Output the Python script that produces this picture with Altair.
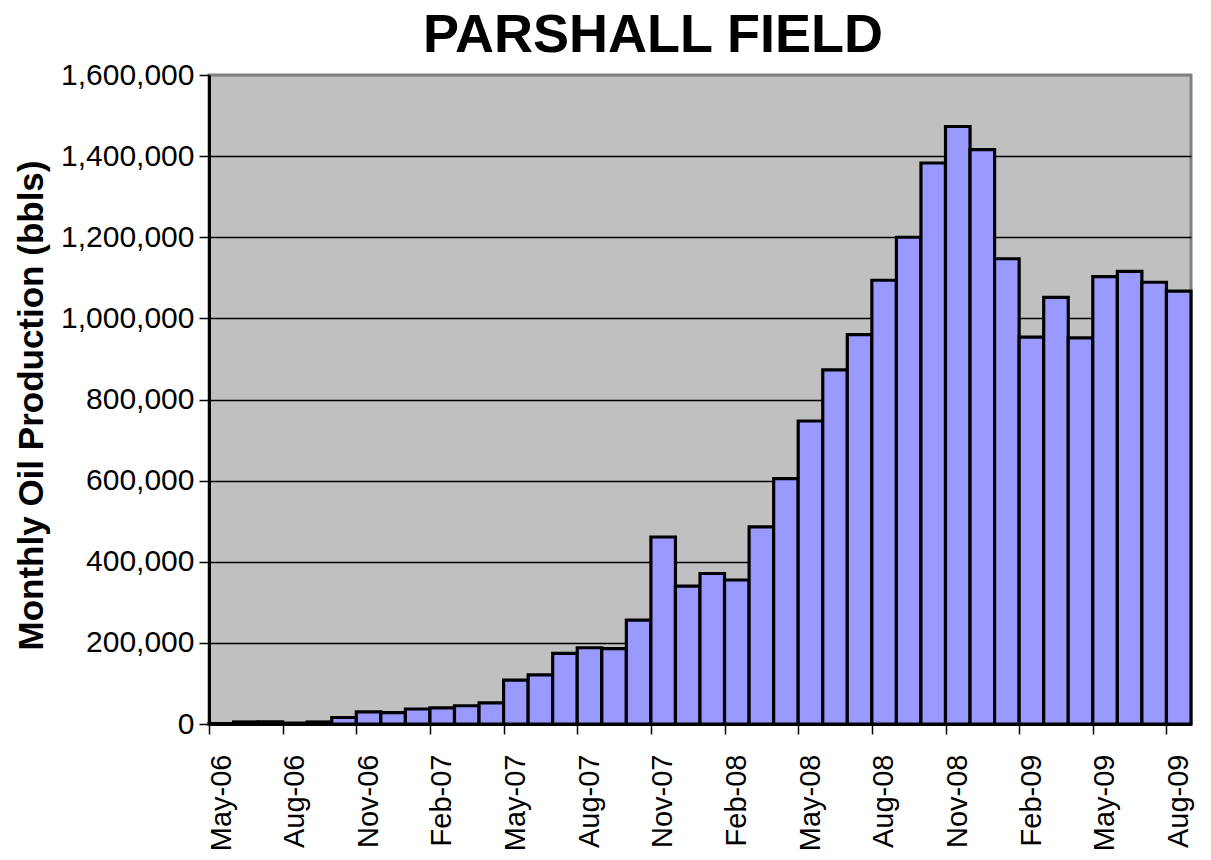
import altair as alt
import pandas as pd

months = [
    "May-06", "Jun-06", "Jul-06", "Aug-06", "Sep-06", "Oct-06", "Nov-06", "Dec-06",
    "Jan-07", "Feb-07", "Mar-07", "Apr-07", "May-07", "Jun-07", "Jul-07", "Aug-07",
    "Sep-07", "Oct-07", "Nov-07", "Dec-07", "Jan-08", "Feb-08", "Mar-08", "Apr-08",
    "May-08", "Jun-08", "Jul-08", "Aug-08", "Sep-08", "Oct-08", "Nov-08", "Dec-08",
    "Jan-09", "Feb-09", "Mar-09", "Apr-09", "May-09", "Jun-09", "Jul-09", "Aug-09",
]
production = [
    1000, 5000, 5000, 2000, 5000, 16000, 30000, 28000,
    37000, 40000, 45000, 52000, 108000, 121000, 174000, 188000,
    186000, 256000, 461000, 340000, 371000, 355000, 486000, 605000,
    747000, 873000, 960000, 1094000, 1200000, 1383000, 1473000, 1416000,
    1147000, 954000, 1052000, 952000, 1103000, 1116000, 1089000, 1067000,
]
tick_labels = ["May-06", "Aug-06", "Nov-06", "Feb-07", "May-07", "Aug-07", "Nov-07",
               "Feb-08", "May-08", "Aug-08", "Nov-08", "Feb-09", "May-09", "Aug-09"]
y_ticks = [0, 200000, 400000, 600000, 800000, 1000000, 1200000, 1400000, 1600000]

df = pd.DataFrame({
    "month": months,
    "idx": list(range(len(months))),
    "idx_end": [i + 1 for i in range(len(months))],
    "bbls": production,
})

tick_positions = [months.index(m) for m in tick_labels]
label_expr = "{" + ",".join(f"'{p}':'{m}'" for p, m in zip(tick_positions, tick_labels)) + "}[datum.value]"

FONT = "Liberation Sans"

chart = alt.Chart(df).mark_bar(
    fill="#9999FF", stroke="black", strokeWidth=3.2, strokeJoin="miter"
).encode(
    x=alt.X(
        "idx:Q",
        scale=alt.Scale(domain=[0, len(months)], nice=False, zero=False),
        axis=alt.Axis(
            values=tick_positions,
            labelExpr=label_expr,
            labelAngle=270,
            labelFont=FONT,
            labelFontSize=29,
            labelColor="black",
            labelOffset=12,
            labelPadding=20,
            labelOverlap=False,
            tickSize=10,
            tickColor="black",
            tickWidth=1.5,
            domainColor="black",
            domainWidth=3,
            grid=False,
            title=None,
        ),
    ),
    x2="idx_end:Q",
    y=alt.Y(
        "bbls:Q",
        scale=alt.Scale(domain=[0, 1600000], nice=False),
        axis=alt.Axis(
            values=y_ticks,
            format=",d",
            labelFont=FONT,
            labelFontSize=30,
            labelColor="black",
            labelPadding=5,
            tickSize=10,
            tickColor="black",
            tickWidth=1.5,
            domainColor="black",
            domainWidth=3,
            grid=True,
            gridColor={"condition": {"test": "datum.value >= 1600000", "value": "#808080"}, "value": "black"},
            gridWidth=1.5,
            title="Monthly Oil Production (bbls)",
            titleFont=FONT,
            titleFontSize=35,
            titleFontWeight="bold",
            titleColor="black",
            titleAngle=270,
            titleBaseline="alphabetic",
            titleAlign="center",
            titleX=-167,
            titleY=330,
        ),
    ),
    y2=alt.datum(0),
).properties(
    width=982,
    height=649,
    title=alt.TitleParams(
        "PARSHALL FIELD",
        font=FONT,
        fontSize=54,
        fontWeight="bold",
        color="black",
        anchor="middle",
        frame="group",
        dx=-47,
        dy=13,
        offset=10,
    ),
    autosize=alt.AutoSizeParams(type="none"),
    padding={"left": 201, "top": 67, "right": 12, "bottom": 128},
    background="white",
).configure_view(
    fill="#C0C0C0", stroke="#808080", strokeWidth=3
)

chart.save("out.html", embed_options={"renderer": "svg", "actions": False})
